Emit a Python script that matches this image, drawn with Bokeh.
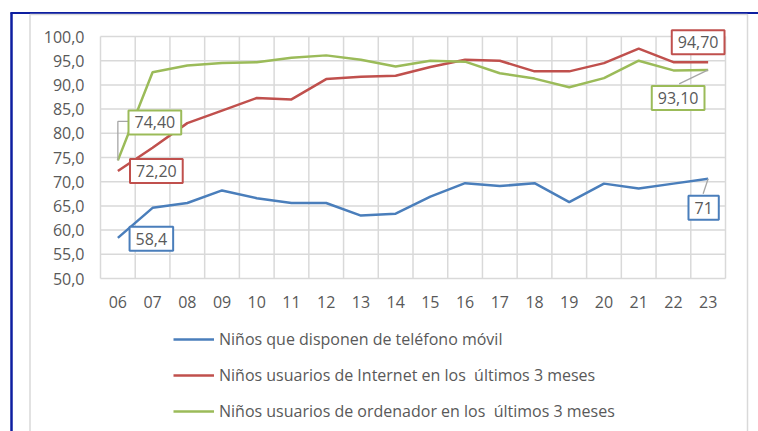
from bokeh.plotting import figure
from bokeh.models import Range1d, FixedTicker, Label, Legend, LegendItem
from bokeh.embed import file_html
from bokeh.resources import INLINE

years = ["06", "07", "08", "09", "10", "11", "12", "13", "14", "15", "16", "17", "18", "19", "20", "21", "22", "23"]
movil = [58.4, 64.6, 65.6, 68.2, 66.6, 65.6, 65.6, 63.0, 63.4, 66.9, 69.7, 69.1, 69.7, 65.8, 69.6, 68.6, 69.6, 70.6]
internet = [72.2, 77.0, 82.1, 84.7, 87.3, 87.0, 91.2, 91.7, 91.9, 93.7, 95.2, 95.0, 92.8, 92.8, 94.5, 97.5, 94.7, 94.7]
ordenador = [74.4, 92.6, 94.0, 94.5, 94.7, 95.6, 96.1, 95.2, 93.8, 95.0, 94.8, 92.4, 91.3, 89.5, 91.4, 95.0, 93.0, 93.1]
y_ticks = [50, 55, 60, 65, 70, 75, 80, 85, 90, 95, 100]
names = ["Niños que disponen de teléfono móvil",
         "Niños usuarios de Internet en los  últimos 3 meses",
         "Niños usuarios de ordenador en los  últimos 3 meses"]
first_labels = ["58,4", "72,20", "74,40"]
last_labels = ["71", "94,70", "93,10"]

BLUE = "#4A7EBB"
RED = "#C0504D"
GREEN = "#9BBB59"
TXT = "#595959"
GRID = "#D9D9D9"
NAVY = "#0D1EA0"
FONT = "Open Sans"

# canvas layout (pixels)
W, H = 758, 431
L, R, T, B = 100, 725, 36, 278
n = len(years)
y0, y1 = y_ticks[0], y_ticks[-1]
px_x = (R - L) / n
px_y = (B - T) / (y1 - y0)
x_start, x_end = -L / px_x, n + (W - R) / px_x
y_start, y_end = y0 - (H - B) / px_y, y1 + T / px_y

def sx(px):
    return x_start + px / px_x

def sy(py):
    return y_end - py / px_y

p = figure(width=W, height=H, output_backend="svg", toolbar_location=None,
           x_range=Range1d(x_start, x_end), y_range=Range1d(y_start, y_end),
           min_border=0, min_border_left=0, min_border_right=0,
           min_border_top=0, min_border_bottom=0)
p.outline_line_color = None
p.background_fill_color = "white"
p.border_fill_color = "white"
p.xgrid.visible = False
p.ygrid.visible = False

# decorative borders
p.line([sx(11), sx(11)], [sy(12), sy(H + 5)], line_color=NAVY, line_width=2.5)
p.line([sx(10), sx(W + 5)], [sy(12.5), sy(12.5)], line_color=NAVY, line_width=2)
p.line([sx(29.5), sx(29.5), sx(747), sx(747)], [sy(H + 5), sy(14), sy(14), sy(H + 5)],
       line_color=GRID, line_width=1.5)

# plot-area grid
p.segment(x0=list(range(n + 1)), y0=[y0] * (n + 1), x1=list(range(n + 1)), y1=[y1] * (n + 1),
          line_color=GRID, line_width=1.5)
p.segment(x0=[0] * len(y_ticks), y0=y_ticks, x1=[n] * len(y_ticks), y1=y_ticks,
          line_color=GRID, line_width=1.5)

xs = [i + 0.5 for i in range(n)]

# axes at fixed locations inside the canvas
p.xaxis.fixed_location = y0
p.yaxis.fixed_location = 0
p.xaxis.ticker = FixedTicker(ticks=xs)
p.xaxis.major_label_overrides = {x: y for x, y in zip(xs, years)}
p.yaxis.ticker = FixedTicker(ticks=y_ticks)
p.yaxis.major_label_overrides = {v: f"{v:.1f}".replace(".", ",") for v in y_ticks}
for ax in (p.xaxis, p.yaxis):
    ax.axis_line_color = None
    ax.major_tick_line_color = None
    ax.minor_tick_line_color = None
    ax.major_label_text_font = FONT
    ax.major_label_text_font_size = "16px"
    ax.major_label_text_color = TXT
p.xaxis.major_label_standoff = 11
p.yaxis.major_label_standoff = 10

series = [movil, internet, ordenador]
colors = [BLUE, RED, GREEN]
renderers = []
for vals, c in zip(series, colors):
    r = p.line(xs, vals, line_color=c, line_width=2.5)
    renderers.append(r)

# leader lines (pixel offsets converted to data units)
LEAD = "#A6A6A6"
g0 = ordenador[0]
p.line([xs[0], xs[0], xs[0] + 10.5 / px_x], [g0, g0 + 39 / px_y, g0 + 39 / px_y], line_color=LEAD, line_width=1.3)
g1 = ordenador[-1]
p.line([xs[-1], xs[-1] - 29 / px_x], [g1, g1 - 14 / px_y], line_color=LEAD, line_width=1.3)
b1 = movil[-1]
p.line([xs[-1], xs[-1] - 5 / px_x], [b1, b1 - 15 / px_y], line_color=LEAD, line_width=1.3)

def box_label(x, y, text, color, dx, dy):
    lab = Label(x=x, y=y, text=text, x_offset=dx, y_offset=dy,
                text_align="center", text_baseline="middle",
                text_font=FONT, text_font_size="16px", text_color=TXT,
                background_fill_color="white", border_line_color=color,
                border_line_width=2, padding=6)
    p.add_layout(lab)

box_label(xs[0], movil[0], first_labels[0], BLUE, 33.5, -1)
box_label(xs[0], internet[0], first_labels[1], RED, 38.5, 0)
box_label(xs[0], ordenador[0], first_labels[2], GREEN, 37, 38)
box_label(xs[-1], movil[-1], last_labels[0], BLUE, -4.5, -29)
box_label(xs[-1], internet[-1], last_labels[1], RED, -10, 20)
box_label(xs[-1], ordenador[-1], last_labels[2], GREEN, -30, -28)

# legend (tuple location = bottom-left corner, measured up from the canvas bottom)
ITEM_H, GAP, LEG_TOP = 20, 14, 334
leg_h = len(names) * ITEM_H + (len(names) - 1) * GAP
items = [LegendItem(label=nm, renderers=[r]) for nm, r in zip(names, renderers)]
leg = Legend(items=items, location=(173, H - (LEG_TOP + leg_h)), orientation="vertical",
             glyph_width=41, glyph_height=ITEM_H, label_height=ITEM_H, spacing=GAP,
             label_standoff=5, padding=0, margin=0,
             border_line_color=None, background_fill_alpha=0,
             label_text_font=FONT, label_text_font_size="16px", label_text_color=TXT)
p.add_layout(leg, "center")

open("out.html", "w").write(file_html(p, INLINE))
